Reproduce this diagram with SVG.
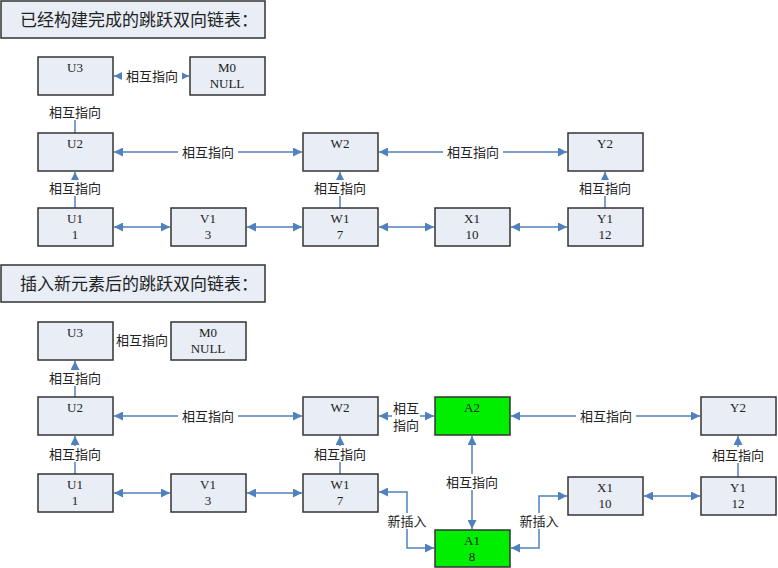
<svg xmlns="http://www.w3.org/2000/svg" width="778" height="568" viewBox="0 0 778 568">
<style>
.b{fill:#e8edf6;stroke:#333;stroke-width:1.5}
.g{fill:#00ee00;stroke:#333;stroke-width:1.5}
text{font-family:"Liberation Serif","Noto Sans CJK SC",serif;font-size:13px;fill:#222;text-anchor:middle}
.t{font-size:17px;text-anchor:start}
.l{stroke:#4f81bd;stroke-width:1.5;fill:none;marker-end:url(#a)}
.d{marker-start:url(#s)}
.lb{fill:#fff;stroke:none}
</style>
<defs>
<marker id="a" viewBox="0 0 10 10" refX="10" refY="5" markerWidth="9" markerHeight="9" markerUnits="userSpaceOnUse" orient="auto"><path d="M0,0L10,5L0,10z" fill="#4f81bd"/></marker>
<marker id="s" viewBox="0 0 10 10" refX="0" refY="5" markerWidth="9" markerHeight="9" markerUnits="userSpaceOnUse" orient="auto"><path d="M10,0L0,5L10,10z" fill="#4f81bd"/></marker>
</defs>
<rect width="778" height="568" fill="#fff"/>
<g id="connectors">
<path class="l d" d="M114,76H189"/>
<path class="l" d="M75,133V108"/>
<path class="l d" d="M114,152H302"/>
<path class="l d" d="M379,152H567"/>
<path class="l" d="M75,208V172"/>
<path class="l" d="M340,208V172"/>
<path class="l" d="M605,208V172"/>
<path class="l d" d="M114,227H170"/>
<path class="l d" d="M247,227H302"/>
<path class="l d" d="M379,227H434"/>
<path class="l d" d="M511,227H567"/>
<path class="l" d="M75,397V361"/>
<path class="l d" d="M114,416H302"/>
<path class="l d" d="M379,416H434"/>
<path class="l d" d="M511,416H700"/>
<path class="l" d="M75,474V436"/>
<path class="l" d="M340,474V436"/>
<path class="l" d="M738,477V436"/>
<path class="l d" d="M114,493H170"/>
<path class="l d" d="M247,493H302"/>
<path class="l d" d="M644,496H700"/>
<path class="l d" d="M472,436V529"/>
<path class="l d" d="M379,492H407V548H434"/>
<path class="l d" d="M511,548H539V496H567"/>
<rect class="lb" x="122" y="68" width="60" height="16"/><text x="152" y="81">相互指向</text>
<rect class="lb" x="45" y="104" width="60" height="16"/><text x="75" y="117">相互指向</text>
<rect class="lb" x="178" y="144" width="60" height="16"/><text x="208" y="157">相互指向</text>
<rect class="lb" x="443" y="144" width="60" height="16"/><text x="473" y="157">相互指向</text>
<rect class="lb" x="45" y="180" width="60" height="16"/><text x="75" y="193">相互指向</text>
<rect class="lb" x="310" y="180" width="60" height="16"/><text x="340" y="193">相互指向</text>
<rect class="lb" x="575" y="180" width="60" height="16"/><text x="605" y="193">相互指向</text>
<text x="142" y="345">相互指向</text>
<rect class="lb" x="45" y="370" width="60" height="16"/><text x="75" y="383">相互指向</text>
<rect class="lb" x="178" y="408" width="60" height="16"/><text x="208" y="421">相互指向</text>
<rect class="lb" x="392" y="400" width="28" height="32"/><text x="406" y="413">相互</text><text x="406" y="430">指向</text>
<rect class="lb" x="576" y="408" width="60" height="16"/><text x="606" y="421">相互指向</text>
<rect class="lb" x="45" y="446" width="60" height="16"/><text x="75" y="459">相互指向</text>
<rect class="lb" x="310" y="446" width="60" height="16"/><text x="340" y="459">相互指向</text>
<rect class="lb" x="708" y="447" width="60" height="16"/><text x="738" y="460">相互指向</text>
<rect class="lb" x="442" y="474" width="60" height="16"/><text x="472" y="487">相互指向</text>
<rect class="lb" x="385" y="513" width="44" height="16"/><text x="407" y="526">新插入</text>
<rect class="lb" x="517" y="513" width="44" height="16"/><text x="539" y="526">新插入</text>
</g>
<g id="title1"><rect class="b" x="1" y="1" width="264" height="37"/><text class="t" x="20" y="26">已经构建完成的跳跃双向链表：</text></g>
<g id="t-U3"><rect class="b" x="38" y="57" width="75" height="38"/><text x="75" y="72">U3</text></g>
<g id="t-M0"><rect class="b" x="190" y="57" width="75" height="38"/><text x="227" y="72">M0</text><text x="227" y="88">NULL</text></g>
<g id="t-U2"><rect class="b" x="38" y="133" width="75" height="38"/><text x="75" y="148">U2</text></g>
<g id="t-W2"><rect class="b" x="303" y="133" width="75" height="38"/><text x="340" y="148">W2</text></g>
<g id="t-Y2"><rect class="b" x="568" y="133" width="75" height="38"/><text x="605" y="148">Y2</text></g>
<g id="t-U1"><rect class="b" x="38" y="208" width="75" height="38"/><text x="75" y="223">U1</text><text x="75" y="239">1</text></g>
<g id="t-V1"><rect class="b" x="171" y="208" width="75" height="38"/><text x="208" y="223">V1</text><text x="208" y="239">3</text></g>
<g id="t-W1"><rect class="b" x="303" y="208" width="75" height="38"/><text x="340" y="223">W1</text><text x="340" y="239">7</text></g>
<g id="t-X1"><rect class="b" x="435" y="208" width="75" height="38"/><text x="472" y="223">X1</text><text x="472" y="239">10</text></g>
<g id="t-Y1"><rect class="b" x="568" y="208" width="75" height="38"/><text x="605" y="223">Y1</text><text x="605" y="239">12</text></g>
<g id="title2"><rect class="b" x="1" y="265" width="264" height="37"/><text class="t" x="20" y="290">插入新元素后的跳跃双向链表：</text></g>
<g id="b-U3"><rect class="b" x="38" y="322" width="75" height="38"/><text x="75" y="337">U3</text></g>
<g id="b-M0"><rect class="b" x="171" y="322" width="75" height="38"/><text x="208" y="337">M0</text><text x="208" y="353">NULL</text></g>
<g id="b-U2"><rect class="b" x="38" y="397" width="75" height="38"/><text x="75" y="412">U2</text></g>
<g id="b-W2"><rect class="b" x="303" y="397" width="75" height="38"/><text x="340" y="412">W2</text></g>
<g id="b-A2"><rect class="g" x="435" y="397" width="75" height="38"/><text x="472" y="412">A2</text></g>
<g id="b-Y2"><rect class="b" x="701" y="397" width="75" height="38"/><text x="738" y="412">Y2</text></g>
<g id="b-U1"><rect class="b" x="38" y="474" width="75" height="38"/><text x="75" y="489">U1</text><text x="75" y="505">1</text></g>
<g id="b-V1"><rect class="b" x="171" y="474" width="75" height="38"/><text x="208" y="489">V1</text><text x="208" y="505">3</text></g>
<g id="b-W1"><rect class="b" x="303" y="474" width="75" height="38"/><text x="340" y="489">W1</text><text x="340" y="505">7</text></g>
<g id="b-X1"><rect class="b" x="568" y="477" width="75" height="38"/><text x="605" y="492">X1</text><text x="605" y="508">10</text></g>
<g id="b-Y1"><rect class="b" x="701" y="477" width="75" height="38"/><text x="738" y="492">Y1</text><text x="738" y="508">12</text></g>
<g id="b-A1"><rect class="g" x="435" y="530" width="75" height="37"/><text x="472" y="545">A1</text><text x="472" y="561">8</text></g>
</svg>
